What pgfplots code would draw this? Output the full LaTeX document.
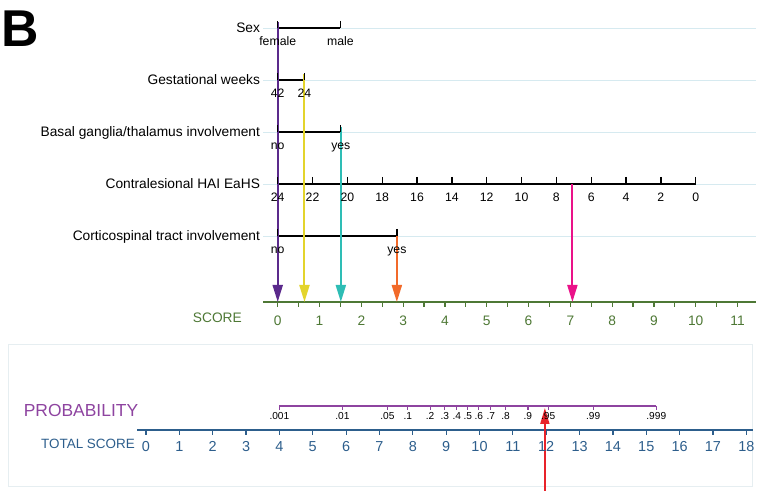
\documentclass[border=0pt]{standalone}
\usepackage{fontspec}
\setmainfont{Liberation Sans}
\usepackage{pgfplots}
\pgfplotsset{compat=1.18}
\usetikzlibrary{arrows.meta}
\definecolor{gridblue}{HTML}{D6EAF0}
\definecolor{scoregreen}{HTML}{4E7835}
\definecolor{cpurple}{HTML}{5B2A8C}
\definecolor{cyellow}{HTML}{E3D42C}
\definecolor{cteal}{HTML}{2EBDB5}
\definecolor{corange}{HTML}{F26A2A}
\definecolor{cpink}{HTML}{EA1289}
\definecolor{cred}{HTML}{E8232A}
\definecolor{probpurple}{HTML}{8E44A0}
\definecolor{totalblue}{HTML}{2D5E8C}
\definecolor{framec}{HTML}{E6EEF1}
\newcommand\lab{\fontsize{13.8}{15}\selectfont}
\newcommand\vlab{\fontsize{12.3}{14}\selectfont}
\newcommand\snum{\fontsize{13.8}{15}\selectfont}
\newcommand\pnum{\fontsize{10.2}{11}\selectfont}
\pgfplotsset{
  row/.style={black, line width=1.3bp, mark=|, mark size=3.5bp,
    mark options={yshift=3.5bp, solid, line width=1.3bp},
    nodes near coords, point meta=explicit symbolic,
    every node near coord/.append style={anchor=base, yshift=-21.5bp, font=\vlab, text=black, inner sep=0pt}},
  grid row/.style={gridblue, line width=0.9bp},
  arr/.style={line width=2bp, -{Triangle[width=10bp,length=17bp]}},
}
\begin{document}
\begin{tikzpicture}[x=1bp,y=1bp]
\useasboundingbox (0,0) rectangle (761,491);
% ---------------- top panel: points per predictor (x = score) ----------------
\begin{axis}[at={(0,0)}, anchor=south west, width=761bp, height=491bp, scale only axis,
  xmin=-6.644, xmax=11.562, ymin=-491, ymax=0, hide axis, clip=false]
  % light grid lines of the rows
  \addplot[grid row] coordinates {(-0.35,-28) (11.45,-28)};
  \addplot[grid row] coordinates {(-0.35,-80) (11.45,-80)};
  \addplot[grid row] coordinates {(-0.35,-132) (11.45,-132)};
  \addplot[grid row] coordinates {(-0.35,-184) (11.45,-184)};
  \addplot[grid row] coordinates {(-0.35,-236) (11.45,-236)};
  % predictor scales
  \addplot[row] table[meta=l] {
x y l
0 -28 female
1.5 -28 male
};
  \addplot[row] table[meta=l] {
x y l
0 -80 42
0.64 -80 24
};
  \addplot[row] table[meta=l] {
x y l
0 -132 no
1.51 -132 yes
};
  \addplot[row] table[meta=l] {
x y l
0 -184 24
0.8333 -184 22
1.6667 -184 20
2.5 -184 18
3.3333 -184 16
4.1667 -184 14
5 -184 12
5.8333 -184 10
6.6667 -184 8
7.5 -184 6
8.3333 -184 4
9.1667 -184 2
10 -184 0
};
  \addplot[row] table[meta=l] {
x y l
0 -236 no
2.85 -236 yes
};
  % row names
  \node[anchor=base east, font=\lab, inner sep=0pt] at (axis cs:-0.42,-33) {Sex};
  \node[anchor=base east, font=\lab, inner sep=0pt] at (axis cs:-0.42,-85) {Gestational weeks};
  \node[anchor=base east, font=\lab, inner sep=0pt] at (axis cs:-0.42,-137) {Basal ganglia/thalamus involvement};
  \node[anchor=base east, font=\lab, inner sep=0pt] at (axis cs:-0.42,-189) {Contralesional HAI EaHS};
  \node[anchor=base east, font=\lab, inner sep=0pt] at (axis cs:-0.42,-241) {Corticospinal tract involvement};
  % SCORE axis
  \addplot[scoregreen, line width=2bp] coordinates {(-0.35,-302) (11.45,-302)};
  \addplot[scoregreen, only marks, mark=|, mark size=2.6bp,
    mark options={yshift=-2.6bp, line width=1.2bp},
    nodes near coords, point meta=explicit symbolic,
    every node near coord/.append style={anchor=base, yshift=-21bp, font=\snum, text=scoregreen, inner sep=0pt}]
    table[meta=l] {
x y l
0 -302 0
0.5 -302 {}
1 -302 1
1.5 -302 {}
2 -302 2
2.5 -302 {}
3 -302 3
3.5 -302 {}
4 -302 4
4.5 -302 {}
5 -302 5
5.5 -302 {}
6 -302 6
6.5 -302 {}
7 -302 7
7.5 -302 {}
8 -302 8
8.5 -302 {}
9 -302 9
9.5 -302 {}
10 -302 10
10.5 -302 {}
11 -302 11
};
  \node[anchor=base east, font=\snum, text=scoregreen, inner sep=0pt] at (axis cs:-0.854,-323) {SCORE};
  % arrows to points
  \addplot[cpurple, arr] coordinates {(0,-22) (0,-302)};
  \addplot[cyellow, arr] coordinates {(0.64,-74) (0.64,-302)};
  \addplot[cteal, arr] coordinates {(1.51,-127) (1.51,-302)};
  \addplot[corange, arr] coordinates {(2.85,-233) (2.85,-302)};
  \addplot[cpink, arr] coordinates {(7.05,-184) (7.05,-302)};
  % panel letter
  \node[anchor=base west, inner sep=0pt, font=\fontsize{52}{52}\selectfont\bfseries] at (axis cs:-6.613,-47) {B};
\end{axis}
% ---------------- bottom panel: total score and probability ----------------
\begin{axis}[at={(0,0)}, anchor=south west, width=761bp, height=491bp, scale only axis,
  xmin=-4.378, xmax=18.441, ymin=-491, ymax=0, hide axis, clip=false]
  \addplot[framec, line width=1bp] coordinates {(-4.138,-345) (18.198,-345) (18.198,-487) (-4.138,-487) (-4.138,-345)};
  % probability scale
  \addplot[probpurple, line width=1.6bp, mark=|, mark size=2.2bp,
    mark options={yshift=-2.2bp, line width=1.3bp},
    nodes near coords, point meta=explicit symbolic,
    every node near coord/.append style={anchor=base, yshift=-11bp, font=\pnum, text=black, inner sep=0pt}]
    table[meta=l] {
x y l
4.00 -406 .001
5.89 -406 .01
7.24 -406 .05
7.85 -406 .1
8.52 -406 .2
8.96 -406 .3
9.32 -406 .4
9.65 -406 .5
9.98 -406 .6
10.34 -406 .7
10.78 -406 .8
11.45 -406 .9
12.06 -406 .95
13.41 -406 .99
15.30 -406 .999
};
  \node[anchor=base west, inner sep=0pt, font=\fontsize{17.5}{19}\selectfont, text=probpurple] at (axis cs:-3.67,-417) {PROBABILITY};
  % total score axis
  \addplot[totalblue, line width=2bp] coordinates {(-0.27,-430) (18.2,-430)};
  \addplot[totalblue, only marks, mark=|, mark size=2.6bp,
    mark options={yshift=-2.6bp, line width=1.2bp},
    nodes near coords, point meta=explicit symbolic,
    every node near coord/.append style={anchor=base, yshift=-19bp, font=\fontsize{14.5}{15}\selectfont, text=totalblue, inner sep=0pt}]
    table[meta=l] {
x y l
0 -430 0
1 -430 1
2 -430 2
3 -430 3
4 -430 4
5 -430 5
6 -430 6
7 -430 7
8 -430 8
9 -430 9
10 -430 10
11 -430 11
12 -430 12
13 -430 13
14 -430 14
15 -430 15
16 -430 16
17 -430 17
18 -430 18
};
  \node[anchor=base east, inner sep=0pt, font=\fontsize{13.5}{15}\selectfont, text=totalblue] at (axis cs:-0.33,-449) {TOTAL SCORE};
  % total-score arrow
  \addplot[cred, line width=1.6bp, -{Triangle[width=9bp,length=16bp]}] coordinates {(11.96,-491) (11.96,-408)};
\end{axis}
\end{tikzpicture}
\end{document}
